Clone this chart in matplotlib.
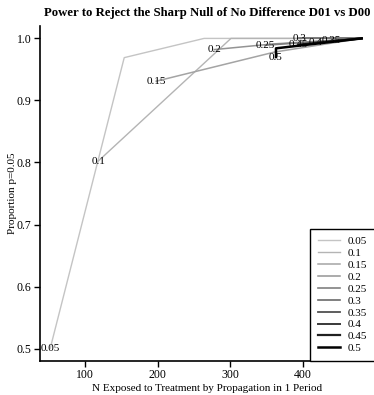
import numpy as np
import matplotlib
matplotlib.use("Agg")
import matplotlib.pyplot as plt

plt.rcParams['font.family'] = ['Liberation Serif', 'DejaVu Serif']

effects = ["0.05", "0.1", "0.15", "0.2", "0.25", "0.3", "0.35", "0.4", "0.45", "0.5"]

# N exposed and proportion p<=0.05 for each effect size
n_vals = [
    [52, 154, 264, 481],
    [118, 301, 481],
    [198, 361, 481],
    [278, 358, 481],
    [348, 481],
    [395, 481],
    [439, 481],
    [417, 481],
    [394, 481],
    [363, 363, 481],
]
p_vals = [
    [0.50, 0.969, 1.0, 1.0],
    [0.802, 1.0, 1.0],
    [0.931, 0.978, 1.0],
    [0.982, 0.991, 1.0],
    [0.989, 1.0],
    [1.0, 1.0],
    [0.996, 1.0],
    [0.993, 1.0],
    [0.990, 1.0],
    [0.970, 0.984, 1.0],
]

greys = ["#c4c4c4", "#b4b4b4", "#a4a4a4", "#949494", "#808080",
         "#6a6a6a", "#505050", "#383838", "#202020", "#000000"]
widths = [1.0, 1.0, 1.1, 1.1, 1.2, 1.2, 1.3, 1.4, 1.6, 1.8]

fig = plt.figure(figsize=(3.74, 3.95), dpi=100)
ax = fig.add_axes([40 / 374, 34 / 395, 334 / 374, 335 / 395])

for lab, xs, ys, c, lw in zip(effects, n_vals, p_vals, greys, widths):
    ax.plot(xs, ys, color=c, lw=lw, label=lab)
for lab, xs, ys in zip(effects, n_vals, p_vals):
    ax.text(xs[0], ys[0], lab, ha='center', va='center', fontsize=8, color='black')

ax.set_xlim(38, 498)
ax.set_ylim(0.48, 1.02)
ax.set_xticks([100, 200, 300, 400])
ax.set_yticks([0.5, 0.6, 0.7, 0.8, 0.9, 1.0])
ax.set_yticklabels(["0.5", "0.6", "0.7", "0.8", "0.9", "1.0"])
ax.tick_params(direction='out', length=4, width=1, labelsize=8.5, pad=2)
for s in ['top', 'right']:
    ax.spines[s].set_visible(False)
for s in ['left', 'bottom']:
    ax.spines[s].set_linewidth(1.2)

ax.set_title("Power to Reject the Sharp Null of No Difference D01 vs D00",
             fontsize=9.2, fontweight='bold', pad=7)
ax.set_xlabel("N Exposed to Treatment by Propagation in 1 Period", fontsize=8, labelpad=2)
ax.set_ylabel("Proportion p=0.05", fontsize=8, labelpad=0)

leg = ax.legend(loc='lower left', bbox_to_anchor=((310 - 40) / 334, 0), fontsize=8,
                frameon=True, fancybox=False, edgecolor='black', framealpha=1,
                handlelength=2.0, handletextpad=0.7, labelspacing=0.19,
                borderpad=0.7, borderaxespad=0)
leg.get_frame().set_linewidth(1.0)

fig.savefig("out.png", dpi=100)
